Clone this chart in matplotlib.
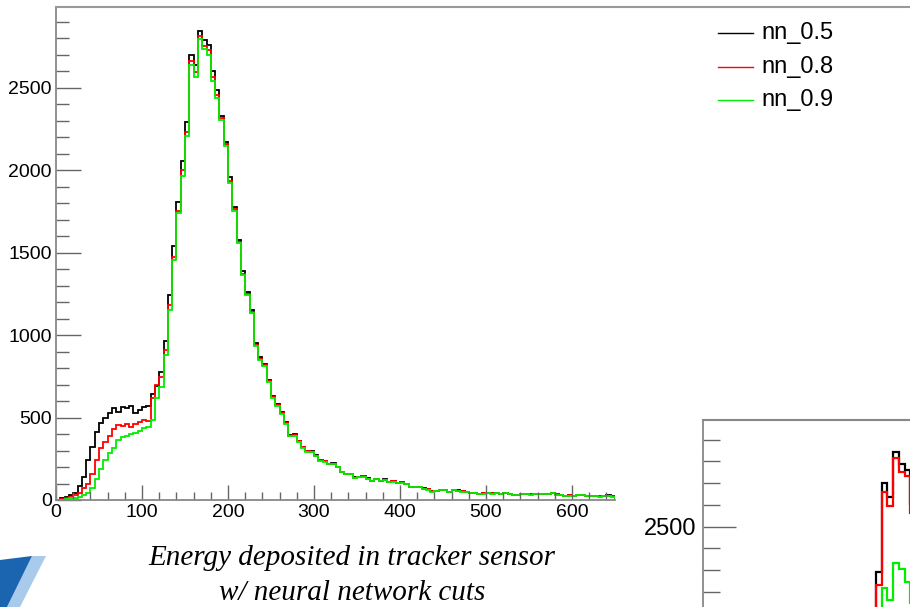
import numpy as np
import matplotlib
matplotlib.use("Agg")
import matplotlib.pyplot as plt
from matplotlib.lines import Line2D
from matplotlib.patches import Polygon

plt.rcParams['font.family'] = ['Liberation Sans', 'DejaVu Sans']

# 5-unit bins from 0 to 650
edges = np.linspace(0, 650, 131)

nn_05 = [2, 15, 20, 28, 40, 85, 140, 243, 322, 414,
         470, 496, 526, 556, 536, 564, 560, 572, 530, 546,
         566, 570, 640, 690, 779, 967, 1244, 1541, 1810, 2053,
         2290, 2700, 2638, 2845, 2788, 2761, 2603, 2488, 2326, 2174,
         1958, 1776, 1578, 1386, 1264, 1153, 951, 866, 825, 730,
         631, 582, 532, 471, 394, 398, 360, 324, 299, 295,
         271, 243, 237, 220, 222, 202, 172, 158, 158, 137,
         141, 144, 131, 117, 129, 117, 125, 111, 115, 105,
         109, 97, 79, 81, 80, 70, 65, 52, 55, 62,
         62, 51, 60, 58, 52, 48, 45, 42, 35, 40,
         44, 40, 42, 38, 42, 36, 33, 30, 36, 36,
         34, 35, 38, 36, 35, 42, 34, 30, 27, 28,
         27, 32, 30, 25, 27, 26, 22, 24, 28, 22]

nn_08 = [0, 8, 12, 20, 30, 44, 70, 100, 160, 243,
         314, 354, 388, 429, 455, 449, 461, 445, 461, 475,
         485, 480, 620, 700, 745, 910, 1183, 1476, 1753, 2002,
         2231, 2660, 2593, 2816, 2751, 2731, 2565, 2458, 2316, 2160,
         1932, 1762, 1566, 1372, 1252, 1142, 942, 858, 818, 722,
         625, 576, 527, 466, 390, 394, 356, 321, 296, 292,
         268, 241, 235, 218, 220, 200, 171, 157, 157, 136,
         140, 143, 130, 116, 128, 116, 124, 110, 114, 104,
         108, 96, 79, 80, 80, 69, 64, 52, 55, 61,
         61, 51, 59, 57, 52, 48, 45, 42, 35, 40,
         43, 40, 42, 38, 41, 36, 33, 30, 36, 35,
         34, 35, 37, 36, 35, 41, 34, 30, 27, 28,
         27, 31, 30, 25, 27, 26, 22, 24, 27, 22]

nn_09 = [0, 2, 8, 10, 12, 18, 28, 40, 70, 130,
         190, 243, 283, 314, 364, 380, 388, 400, 408, 420,
         435, 445, 485, 620, 688, 880, 1153, 1456, 1740, 1966,
         2205, 2636, 2563, 2797, 2735, 2700, 2542, 2441, 2302, 2150,
         1922, 1752, 1556, 1362, 1244, 1134, 936, 852, 812, 716,
         620, 572, 524, 462, 387, 390, 352, 318, 293, 289,
         266, 239, 233, 216, 218, 198, 169, 155, 155, 134,
         138, 141, 128, 115, 126, 115, 122, 109, 112, 103,
         106, 95, 78, 79, 79, 68, 63, 51, 54, 60,
         60, 50, 58, 56, 51, 47, 44, 41, 35, 39,
         43, 39, 41, 37, 41, 35, 32, 30, 35, 35,
         33, 34, 37, 35, 34, 41, 33, 29, 26, 27,
         26, 31, 29, 25, 26, 25, 21, 23, 27, 21]

# partly visible second plot (bottom right): its green series differs
inset_first_bin = 28
inset_green = [1650, 1870, 2050, 2217, 2164, 2333, 2306, 2248, 2150, 2050]

labels = ['nn_0.5', 'nn_0.8', 'nn_0.9']
colors = ['black', '#ff0000', '#00ee00']
series = [nn_05, nn_08, nn_09]

W, H = 910, 607
fig = plt.figure(figsize=(W / 100, H / 100), dpi=100)


def px_box(x0, y0, x1, y1):
    # pixel box (top-left origin) -> figure fraction rect
    return [x0 / W, 1 - y1 / H, (x1 - x0) / W, (y1 - y0) / H]


def style_axes(ax, ymaj, ymin, xmaj, xmin, fs):
    for s in ['top', 'right']:
        ax.spines[s].set_visible(False)
    for s in ['left', 'bottom']:
        ax.spines[s].set_color('#888888')
        ax.spines[s].set_linewidth(1.3)
    ax.tick_params(axis='y', which='major', direction='in', length=ymaj,
                   width=1.0, color='#666666', labelsize=fs, pad=3)
    ax.tick_params(axis='y', which='minor', direction='in', length=ymin,
                   width=1.0, color='#666666')
    ax.tick_params(axis='x', which='major', direction='in', length=xmaj,
                   width=1.0, color='#666666', labelsize=fs, pad=3)
    ax.tick_params(axis='x', which='minor', direction='in', length=xmin,
                   width=1.0, color='#666666')


# main histogram
ax = fig.add_axes(px_box(56, 7, 615, 500))
for vals, c, lab in zip(series, colors, labels):
    ax.stairs(vals, edges, color=c, linewidth=1.3, label=lab)
ax.set_xlim(0, 650)
ax.set_ylim(0, 2990)
ax.set_xticks(np.arange(0, 700, 100))
ax.set_xticks(np.arange(0, 660, 20), minor=True)
ax.set_yticks(np.arange(0, 3000, 500))
ax.set_yticks(np.arange(0, 3000, 100), minor=True)
style_axes(ax, 18, 9, 11, 5.5, 14)

# top frame line running across to the right edge
fig.add_artist(Line2D([56 / W, 1], [1 - 7 / H, 1 - 7 / H], color='#999999',
                      linewidth=1.5, transform=fig.transFigure))

# legend
for i, (c, lab) in enumerate(zip(colors, labels)):
    yc = 1 - (33 + 33.5 * i) / H
    fig.add_artist(Line2D([718 / W, 753 / W], [yc, yc], color=c,
                          linewidth=1.0, transform=fig.transFigure))
    fig.text(761 / W, yc, lab, fontsize=17, va='center', ha='left')

# caption
fig.text(352 / W, 1 - 558 / H, 'Energy deposited in tracker sensor',
         family='Liberation Serif', style='italic', fontsize=21,
         ha='center', va='center')
fig.text(352 / W, 1 - 593 / H, 'w/ neural network cuts',
         family='Liberation Serif', style='italic', fontsize=21,
         ha='center', va='center')

# second plot, cut off at the bottom right
ax2 = fig.add_axes(px_box(703, 420, 1452, 1071))
ax2.stairs(nn_05, edges, color='black', linewidth=1.6)
ax2.stairs(nn_08, edges, color='#ff0000', linewidth=1.6)
ax2.stairs(inset_green,
           edges[inset_first_bin:inset_first_bin + len(inset_green) + 1],
           color='#00ee00', linewidth=1.6)
ax2.set_xlim(0, 650)
ax2.set_ylim(0, 2990)
ax2.set_yticks([2500])
ax2.set_yticks(np.arange(2000, 3000, 100), minor=True)
ax2.set_xticks([])
style_axes(ax2, 24, 12, 14, 7, 17)
ax2.tick_params(axis='y', pad=5)
fig.add_artist(Line2D([703 / W, 1], [1 - 420 / H, 1 - 420 / H],
                      color='#888888', linewidth=1.5,
                      transform=fig.transFigure))

# logo fragment in the lower left corner
logo = Polygon([(0, 1 - 560 / H), (32 / W, 1 - 556 / H), (7 / W, 0), (0, 0)],
               closed=True, facecolor='#1b64b0', edgecolor='none',
               transform=fig.transFigure)
fringe = Polygon([(32 / W, 1 - 556 / H), (46 / W, 1 - 556 / H),
                  (20 / W, 0), (7 / W, 0)],
                 closed=True, facecolor='#a9cbeb', edgecolor='none',
                 transform=fig.transFigure)
fig.add_artist(fringe)
fig.add_artist(logo)

fig.savefig('out.png', dpi=100)
